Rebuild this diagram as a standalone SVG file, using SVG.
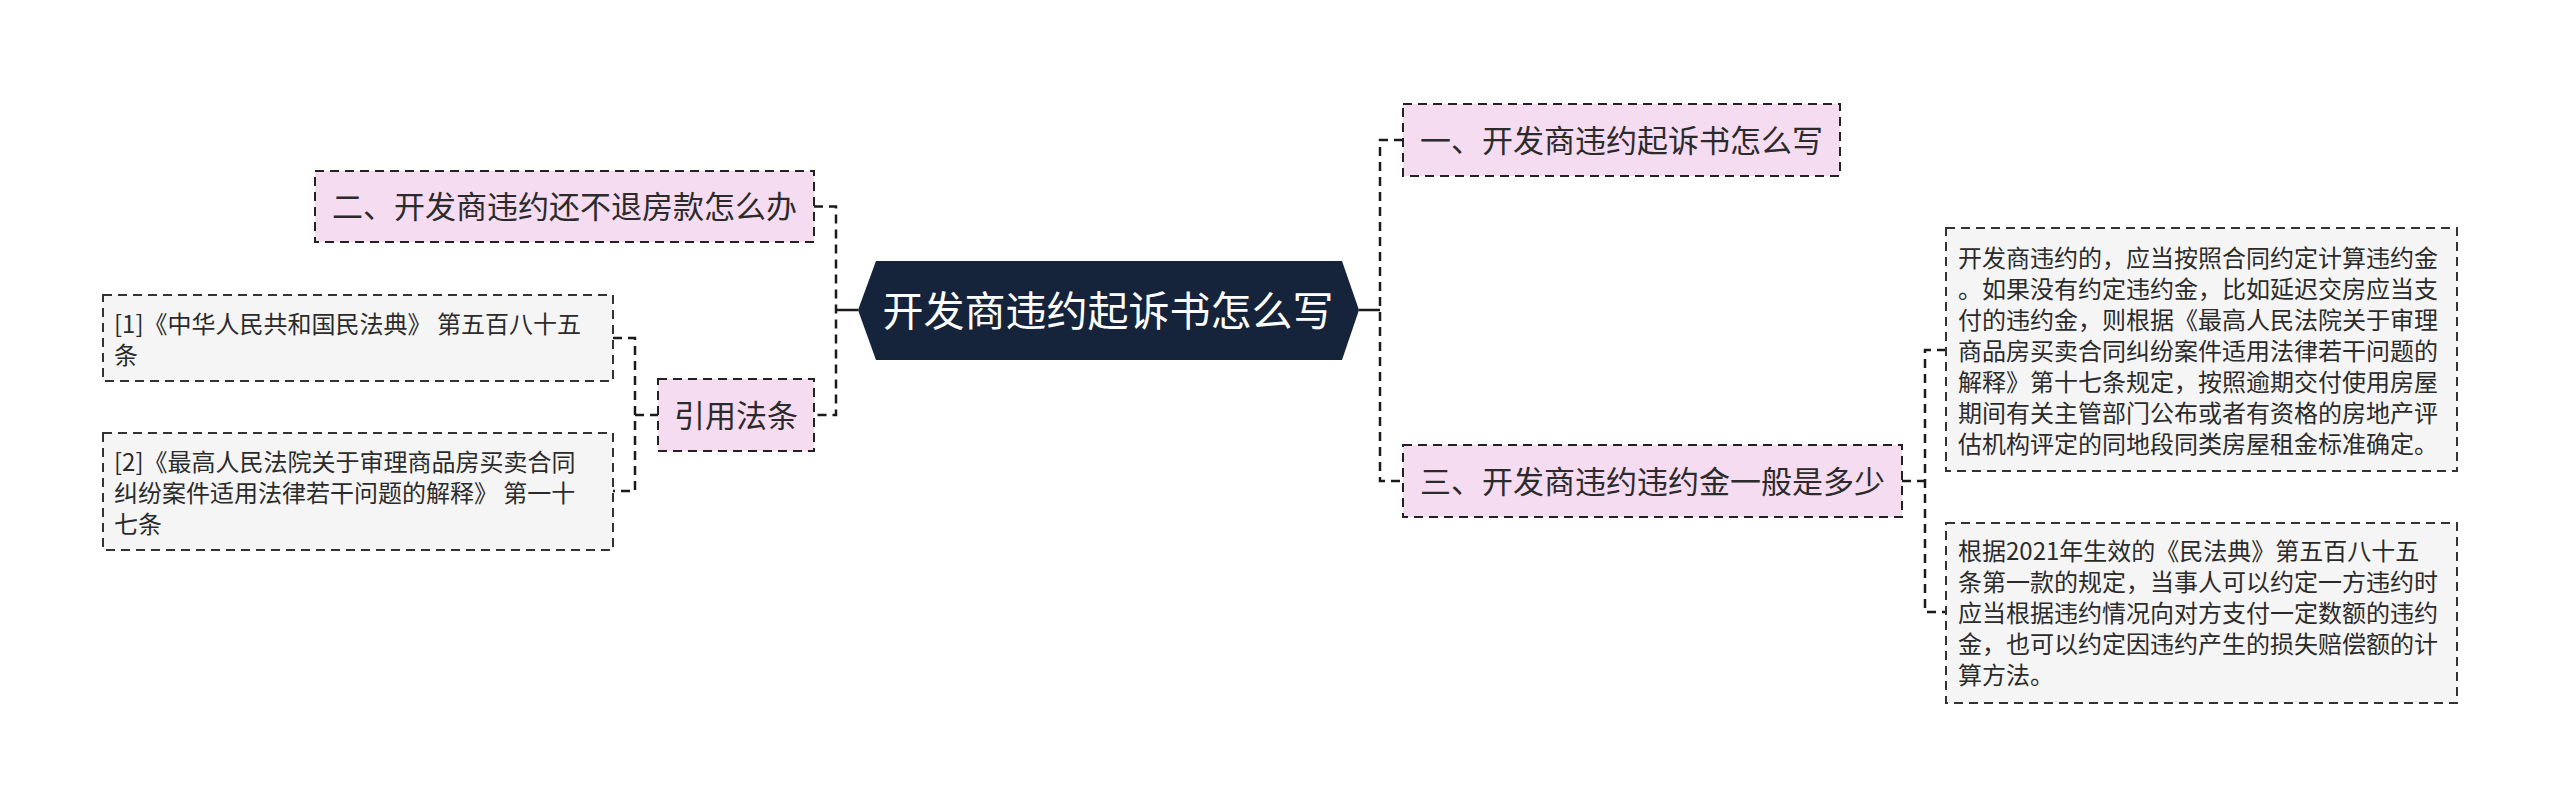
<svg xmlns="http://www.w3.org/2000/svg" width="2560" height="807" viewBox="0 0 2560 807">
<style>
text{font-family:"Noto Sans CJK SC","Noto Sans",sans-serif;fill:#2b2b2b}
.pink{fill:#f6dcf0;stroke:#222;stroke-width:2;stroke-dasharray:9 6}
.gray{fill:#f5f5f5;stroke:#333;stroke-width:2;stroke-dasharray:9 6}
.t31{font-size:31px;text-anchor:middle}
.t24{font-size:24px}
.conn{fill:none;stroke:#1a1a1a;stroke-width:2.5;stroke-dasharray:9 6}
.solid{fill:none;stroke:#1a1a1a;stroke-width:2.5}
</style>
<rect width="2560" height="807" fill="#ffffff"/>
<g id="connectors">
<path class="conn" d="M814 206.5H836V415H814"/>
<path class="solid" d="M836 310H858"/>
<path class="conn" d="M613 338H635V491H613M635 415H658"/>
<path class="solid" d="M1359 310H1380"/>
<path class="conn" d="M1403 140H1380V481H1403"/>
<path class="conn" d="M1902 481H1925M1946 350H1925V612H1946"/>
</g>
<g id="root">
<polygon points="858,310 876,261 1342,261 1359,310 1342,360 876,360" fill="#15243a"/>
<text x="1108" y="326" font-size="41" text-anchor="middle" style="fill:#ffffff">开发商违约起诉书怎么写</text>
</g>
<g id="n2">
<rect class="pink" x="315" y="171" width="499" height="71"/>
<text class="t31" x="564.5" y="218">二、开发商违约还不退房款怎么办</text>
</g>
<g id="cite">
<rect class="pink" x="658" y="379" width="156" height="72"/>
<text class="t31" x="736" y="427">引用法条</text>
</g>
<g id="cite1">
<rect class="gray" x="103" y="295" width="510" height="86"/>
<text class="t24"><tspan x="114" y="333">[1]《中华人民共和国民法典》 第五百八十五</tspan><tspan x="114" y="364">条</tspan></text>
</g>
<g id="cite2">
<rect class="gray" x="103" y="433" width="510" height="117"/>
<text class="t24"><tspan x="114" y="471">[2]《最高人民法院关于审理商品房买卖合同</tspan><tspan x="114" y="502">纠纷案件适用法律若干问题的解释》 第一十</tspan><tspan x="114" y="533">七条</tspan></text>
</g>
<g id="n1">
<rect class="pink" x="1403" y="104" width="437" height="72"/>
<text class="t31" x="1621.5" y="152">一、开发商违约起诉书怎么写</text>
</g>
<g id="n3">
<rect class="pink" x="1403" y="445" width="499" height="72"/>
<text class="t31" x="1652.5" y="493">三、开发商违约违约金一般是多少</text>
</g>
<g id="d1">
<rect class="gray" x="1946" y="228" width="511" height="243"/>
<text class="t24"><tspan x="1958" y="267">开发商违约的，应当按照合同约定计算违约金</tspan><tspan x="1958" y="298">。如果没有约定违约金，比如延迟交房应当支</tspan><tspan x="1958" y="329">付的违约金，则根据《最高人民法院关于审理</tspan><tspan x="1958" y="360">商品房买卖合同纠纷案件适用法律若干问题的</tspan><tspan x="1958" y="391">解释》第十七条规定，按照逾期交付使用房屋</tspan><tspan x="1958" y="422">期间有关主管部门公布或者有资格的房地产评</tspan><tspan x="1958" y="453">估机构评定的同地段同类房屋租金标准确定。</tspan></text>
</g>
<g id="d2">
<rect class="gray" x="1946" y="523" width="511" height="180"/>
<text class="t24"><tspan x="1958" y="560">根据2021年生效的《民法典》第五百八十五</tspan><tspan x="1958" y="591">条第一款的规定，当事人可以约定一方违约时</tspan><tspan x="1958" y="622">应当根据违约情况向对方支付一定数额的违约</tspan><tspan x="1958" y="653">金，也可以约定因违约产生的损失赔偿额的计</tspan><tspan x="1958" y="684">算方法。</tspan></text>
</g>
</svg>
